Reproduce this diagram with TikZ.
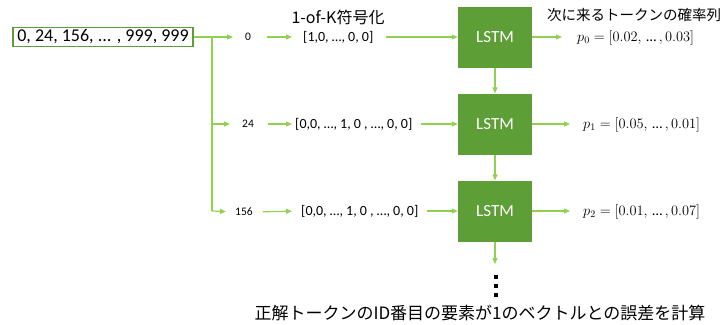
\documentclass[tikz,border=0pt]{standalone}
\usepackage[no-math]{fontspec}
\setmainfont{Carlito}
\newfontfamily\jp{Noto Sans CJK JP}
\usetikzlibrary{arrows.meta}
\definecolor{lstmgreen}{HTML}{5E9E37}
\definecolor{linegreen}{HTML}{92D050}
\begin{document}
\begin{tikzpicture}[x=1pt,y=-1pt,
  wire/.style={draw=linegreen, line width=1.2pt},
  conn/.style={wire, -{Triangle[length=6pt,width=5pt]}},
  lstm/.style={fill=lstmgreen, minimum width=74pt, minimum height=61pt, inner sep=0,
    text=white, font=\fontsize{17}{17}\selectfont},
  idtxt/.style={anchor=west, inner sep=0, font=\fontsize{11.5}{12}\selectfont},
  vectxt/.style={anchor=west, inner sep=0, font=\fontsize{14}{14}\selectfont},
  ptxt/.style={anchor=west, inner sep=0, font=\fontsize{14.5}{15}\selectfont},
  jptxt/.style={inner sep=0, font=\jp\fontsize{14.5}{15}\selectfont},
  dot/.style={fill=black, minimum size=3.2pt, inner sep=0}
]
\useasboundingbox (0,0) rectangle (728,324);

% input sequence
\node[draw=lstmgreen, line width=1.4pt, minimum width=180pt, minimum height=19pt, inner sep=0,
  font=\fontsize{18}{18}\selectfont] (seq) at (103,37) {0, 24, 156, ... , 999, 999};

% branch points
\coordinate (br0) at (212,37);
\coordinate (br1) at (212,124);
\coordinate (br2) at (212,211);

% row 0
\node[idtxt] (id0) at (245,37) {0};
\node[vectxt] (vec0) at (303,37) {[1,0, …, 0, 0]};
\node[lstm] (l0) at (495,37) {LSTM};
\node[ptxt] (p0) at (577,38) {$p_0 = [0.02,\, \hbox{…}\, , 0.03]$};

% row 1
\node[idtxt] (id1) at (242,124) {24};
\node[vectxt] (vec1) at (295,124) {[0,0, …, 1, 0 , …, 0, 0]};
\node[lstm] (l1) at (495,124) {LSTM};
\node[ptxt] (p1) at (583,125) {$p_1 = [0.05,\, \hbox{…}\, , 0.01]$};

% row 2
\node[idtxt] (id2) at (235,212) {156};
\node[vectxt] (vec2) at (301,211) {[0,0, …, 1, 0 , …, 0, 0]};
\node[lstm] (l2) at (495,211) {LSTM};
\node[ptxt] (p2) at (583,212) {$p_2 = [0.01,\, \hbox{…}\, , 0.07]$};

% titles
\node[jptxt, font=\jp\fontsize{16}{16}\selectfont] (t1) at (338,17) {1-of-K符号化};
\node[jptxt] (t2) at (634,15) {次に来るトークンの確率列};
\node[jptxt, font=\jp\fontsize{17}{17}\selectfont] (t3) at (480,313) {正解トークンのID番目の要素が1のベクトルとの誤差を計算};

% continuation dots
\coordinate (end) at (495,264);
\node[dot] (d1) at (496,277) {};
\node[dot] (d2) at (496,286) {};
\node[dot] (d3) at (496,295) {};

% connectors
\draw[wire] (seq.east) -- (br0) -- (br2);
\draw[conn, shorten >=12pt] (br0) -- (id0.west);
\draw[conn, shorten >=12pt] (br1) -- (id1.west);
\draw[conn, shorten >=9pt] (br2) -- (id2.west);

\draw[conn, shorten <=16pt, shorten >=11pt] (id0.east) -- (vec0.west);
\draw[conn, shorten <=14pt, shorten >=3pt] (id1.east) -- (vec1.west);
\draw[conn, shorten <=10pt, shorten >=9pt] (id2.east) -- (vec2.west);

\draw[conn, shorten <=12pt] (vec0.east) -- (l0.west);
\draw[conn, shorten <=8pt] (vec1.east) -- (l1.west);
\draw[conn, shorten <=8pt] (vec2.east) -- (l2.west);

\draw[conn, shorten >=15pt] (l0.east) -- (l0.east -| p0.west);
\draw[conn, shorten >=13pt] (l1.east) -- (l1.east -| p1.west);
\draw[conn, shorten >=13pt] (l2.east) -- (l2.east -| p2.west);

\draw[conn] (l0.south) -- (l1.north);
\draw[conn] (l1.south) -- (l2.north);
\draw[conn] (l2.south) -- (end);
\end{tikzpicture}
\end{document}
